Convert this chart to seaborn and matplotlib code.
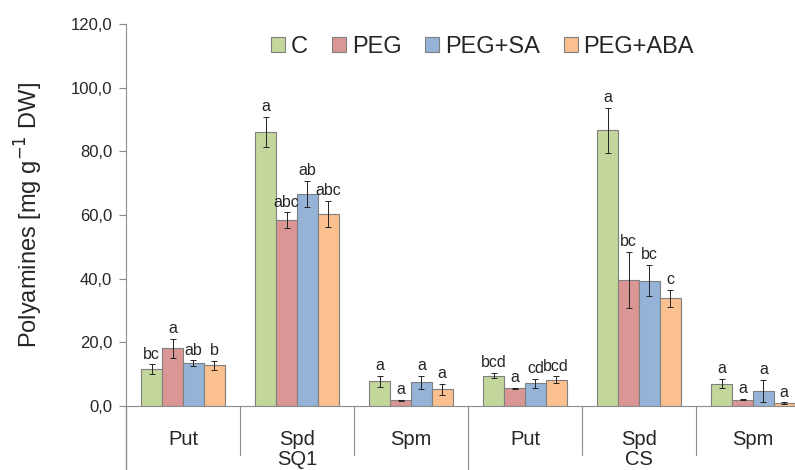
import numpy as np
import pandas as pd
import matplotlib
matplotlib.use("Agg")
import matplotlib.pyplot as plt
import seaborn as sns
from matplotlib.patches import Patch

# values
cultivars = ["SQ1", "CS"]
compounds = ["Put", "Spd", "Spm"]
treatments = ["C", "PEG", "PEG+SA", "PEG+ABA"]
colors = ["#C3D69B", "#D99694", "#95B3D7", "#FAC090"]

# rows: SQ1 Put, SQ1 Spd, SQ1 Spm, CS Put, CS Spd, CS Spm
val_C = [11.6, 86.0, 7.8, 9.5, 86.6, 7.0]
val_PEG = [18.1, 58.3, 1.8, 5.5, 39.6, 2.0]
val_SA = [13.4, 66.7, 7.4, 7.1, 39.4, 4.8]
val_ABA = [12.8, 60.4, 5.2, 8.2, 33.8, 0.9]

err_C = [1.5, 4.7, 1.7, 0.8, 7.0, 1.4]
err_PEG = [3.0, 2.5, 0.2, 0.2, 8.9, 0.2]
err_SA = [0.9, 4.1, 2.0, 1.5, 4.9, 3.5]
err_ABA = [1.4, 4.1, 1.7, 1.1, 2.7, 0.2]

let_C = ["bc", "a", "a", "bcd", "a", "a"]
let_PEG = ["a", "abc", "a", "a", "bc", "a"]
let_SA = ["ab", "ab", "a", "cd", "bc", "a"]
let_ABA = ["b", "abc", "a", "bcd", "c", "a"]

groups = [f"{cv}_{cp}" for cv in cultivars for cp in compounds]
vals = [val_C, val_PEG, val_SA, val_ABA]
errs = [err_C, err_PEG, err_SA, err_ABA]
lets = [let_C, let_PEG, let_SA, let_ABA]

rows = []
for t, v, e, l in zip(treatments, vals, errs, lets):
    for g, vv, ee, ll in zip(groups, v, e, l):
        rows.append({"group": g, "treatment": t, "value": vv, "err": ee, "letter": ll})
df = pd.DataFrame(rows)

sns.set_style("white")
plt.rcParams["font.family"] = ["Liberation Sans", "DejaVu Sans"]

fig = plt.figure(figsize=(7.95, 4.7), dpi=100)
ax = fig.add_axes([126 / 795, 64 / 470, 684 / 795, 382 / 470])

sns.barplot(data=df, x="group", y="value", hue="treatment", order=groups,
            hue_order=treatments, palette=colors, errorbar=None, width=0.73,
            edgecolor="#7f7f7f", linewidth=0.8, legend=False, saturation=1, ax=ax)

# error bars and letters on each bar
bars = [p for p in ax.patches]
for i, t in enumerate(treatments):
    sub = df[df.treatment == t].set_index("group").loc[groups]
    for j, g in enumerate(groups):
        p = bars[i * len(groups) + j]
        xc = p.get_x() + p.get_width() / 2
        v = sub.loc[g, "value"]
        e = sub.loc[g, "err"]
        ax.errorbar(xc, v, yerr=e, color="#222222", lw=0.7, capsize=2, capthick=0.7)
        ax.annotate(sub.loc[g, "letter"], (xc, v + e), xytext=(0, 2),
                    textcoords="offset points", ha="center", va="bottom", fontsize=11.5)

ax.set_ylim(0, 120)
ax.set_xlim(-0.5, 5.5)
ax.set_yticks(np.arange(0, 121, 20))
ax.set_yticklabels([f"{t:.1f}".replace(".", ",") for t in np.arange(0, 121, 20)], fontsize=12)
ax.tick_params(axis="y", length=5, color="#8c8c8c", direction="out", left=True, pad=5)
ax.set_xticks([])
ax.set_xlabel("")
ax.set_ylabel("Polyamines [mg g$^{-1}$ DW]", fontsize=17, labelpad=18)

for s in ["top", "right"]:
    ax.spines[s].set_visible(False)
ax.spines["left"].set_color("#8c8c8c")
ax.spines["bottom"].set_color("#8c8c8c")

# multi-level category axis below zero
trans = ax.get_xaxis_transform()
ax.plot([-0.5, -0.5], [0, -0.17], color="#8c8c8c", lw=1, transform=trans, clip_on=False)
for k in range(1, 6):
    low = -0.17 if k == 3 else -0.128
    ax.plot([k - 0.5, k - 0.5], [0, low], color="#8c8c8c", lw=0.8, transform=trans, clip_on=False)
for j, g in enumerate(groups):
    ax.text(j, -0.088, g.split("_")[1], transform=trans, ha="center", va="center", fontsize=14.5)
for c, cv in enumerate(cultivars):
    ax.text(c * 3 + 1, -0.14, cv, transform=trans, ha="center", va="center", fontsize=14.5)

handles = [Patch(facecolor=c, edgecolor="#7f7f7f", linewidth=0.8) for c in colors]
fig.legend(handles, treatments, loc="center", bbox_to_anchor=(0.607, 0.9), ncol=4,
           frameon=False, fontsize=17, handlelength=0.6, handleheight=0.6,
           handletextpad=0.25, columnspacing=1.0)

fig.savefig("out.png", dpi=100)
